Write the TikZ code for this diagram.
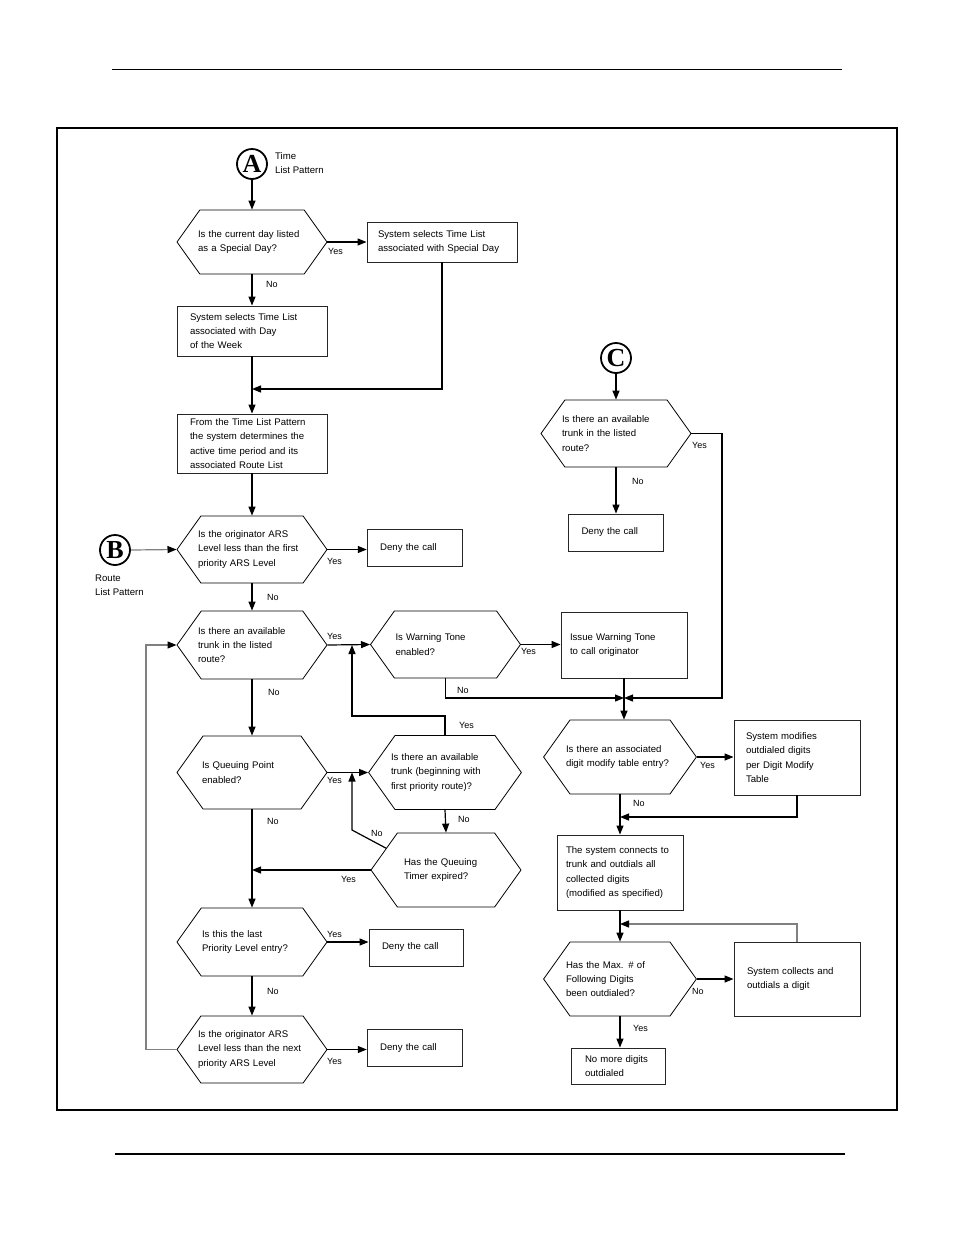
\documentclass[tikz,border=0pt]{standalone}
\usepackage{fontspec}
\setmainfont{Liberation Sans}
\newfontfamily\letterfont{Liberation Serif}
\usetikzlibrary{shapes.symbols,arrows.meta}
\newcommand\txt{\fontsize{9.6}{14.3}\selectfont}
\tikzset{
  base/.style={draw=black, line width=1.2pt},
  arr/.style={base, -{Triangle[length=9pt,width=7pt]}},
  grey/.style={draw=black!50, line width=1.2pt},
  garr/.style={grey, -{Triangle[length=9pt,width=7pt,black]}},
  hexa/.style={signal, signal to=west and east, signal pointer angle=109, draw=black, line width=0.8pt,
    minimum width=150pt, minimum height=#1, text width=108pt, inner xsep=-4pt, inner ysep=0pt, align=left, font=\txt},
  box/.style 2 args={draw=black!85, line width=0.9pt, text width=#1, minimum height=#2, inner xsep=13pt, inner ysep=0pt, align=left, font=\txt},
  conn/.style={circle, draw=black, line width=1.8pt, minimum size=30pt, inner sep=0pt, font=\letterfont\fontsize{26}{26}\selectfont\bfseries},
  lab/.style={font=\fontsize{9}{10}\selectfont, inner sep=0pt, anchor=west},
  note/.style={font=\txt, inner sep=0pt, anchor=west, align=left},
}
\begin{document}
\begin{tikzpicture}[x=1pt,y=-1pt]
  \useasboundingbox (0,0) rectangle (954,1235);
  % page rules and frame
  \draw[base] (112,69.5) -- (842,69.5);
  \draw[base] (115,1154) -- (845,1154);
  \draw[draw=black, line width=2pt] (56.7,127.7) rectangle (896.7,1109.5);

  % entry points
  \node[conn] (A) at (252,164) {A};
  \node[conn] (B) at (115,550) {B};
  \node[conn] (C) at (616,358) {C};
  \node[note] (tA) at (275,163) {Time\\List Pattern};
  \node[note] (tB) at (95,585) {Route\\List Pattern};

  % left column
  \node[hexa=64pt] (D1) at (252,242) {Is the current day listed\\as a Special Day?};
  \node[box={128pt}{40pt}, inner xsep=11pt] (B1) at (442,242) {System selects Time List\\associated with Special Day};
  \node[box={124pt}{50pt}] (B2) at (252,331) {System selects Time List\\associated with Day\\of the Week};
  \node[box={124pt}{59pt}] (B3) at (252,443.5) {From the Time List Pattern\\the system determines the\\active time period and its\\associated Route List};
  \node[hexa=67pt] (D2) at (252,549.5) {Is the originator ARS\\Level less than the first\\priority ARS Level};
  \node[box={69pt}{37pt}] (N1) at (414.7,547.7) {Deny the call};
  \node[hexa=68pt] (D3) at (252,645) {Is there an available\\trunk in the listed\\route?};
  \node[hexa=67pt, text width=100pt] (D4) at (445.5,644.5) {Is Warning Tone\\enabled?};
  \node[box={108pt}{66pt}, inner xsep=9pt] (W) at (624,645) {Issue Warning Tone\\to call originator};
  \node[hexa=73pt, text width=100pt] (D5) at (252,772.5) {Is Queuing Point\\enabled?};
  \node[hexa=74pt] (D6) at (445,772.5) {Is there an available\\trunk (beginning with\\first priority route)?};
  \node[hexa=74pt, text width=84pt] (D10) at (446,870) {Has the Queuing\\Timer expired?};
  \node[hexa=68pt, text width=100pt] (D11) at (252,942) {Is this the last\\Priority Level entry?};
  \node[box={68pt}{37pt}] (N2) at (416,947.5) {Deny the call};
  \node[hexa=67pt] (D12) at (252,1049.5) {Is the originator ARS\\Level less than the next\\priority ARS Level};
  \node[box={69pt}{37pt}] (N3) at (414.7,1047.7) {Deny the call};

  % right column
  \node[hexa=67pt] (D8) at (616,433.5) {Is there an available\\trunk in the listed\\route?};
  \node[box={69pt}{37pt}] (N4) at (616,532.5) {Deny the call};
  \node[hexa=74pt] (D7) at (620,757) {Is there an associated\\digit modify table entry?};
  \node[box={102pt}{75pt}, inner xsep=12pt] (M) at (797,757.5) {System modifies\\outdialed digits\\per Digit Modify\\Table};
  \node[box={108pt}{75pt}, inner xsep=9pt] (T) at (620,872.5) {The system connects to\\trunk and outdials all\\collected digits\\(modified as specified)};
  \node[hexa=74pt] (D9) at (620,979) {Has the Max. \# of\\Following Digits\\been outdialed?};
  \node[box={100pt}{74pt}] (S) at (797,979) {System collects and\\outdials a digit};
  \node[box={66pt}{36pt}, inner xsep=14pt] (E) at (618,1066) {No more digits\\outdialed};

  \coordinate (P) at (252,389);
  \coordinate (J) at (624,698);
  \coordinate (K) at (620,817);
  \coordinate (L) at (620,924);
  \coordinate (rt) at (722,698);
  \coordinate (up1) at (352,716);
  \coordinate (up2) at (352,830);
  \coordinate (lp) at (146,645);

  % connectors
  \draw[arr] (A.south) -- (D1.north);
  \draw[arr] (D1.east) -- (B1.west);
  \draw[arr] (D1.south) -- (B2.north);
  \draw[arr] (B1.south) |- (P);
  \draw[arr] (B2.south) -- (B3.north);
  \draw[arr] (B3.south) -- (D2.north);
  \draw[garr] (B.east) -- (D2.west);
  \draw[arr] (D2.east) -- (D2.east -| N1.west);
  \draw[arr] (D2.south) -- (D3.north);
  \draw[arr] (D3.east) -- (D4.west);
  \draw[arr] (D4.east) -- (D4.east -| W.west);
  \draw[arr] (D4.south) |- (J);
  \draw[base] (W.south) -- (J);
  \draw[arr] (J) -- (J |- D7.north);
  \draw[arr] (C.south) -- (D8.north);
  \draw[arr] (D8.south) -- (N4.north);
  \draw[arr] (D8.east) -| (rt) -- (J);
  \draw[arr] (D3.south) -- (D5.north);
  \draw[arr] (D5.east) -- (D6.west);
  \draw[arr] (D6.north) |- (up1) -- (up1 |- D3.east);
  \draw[arr] (D6.south) -- (D10.north);
  \draw[arr] (D10.160) -- (up2) -- (up2 |- D5.east);
  \draw[arr] (D10.west) -- (D10.west -| D5.south);
  \draw[arr] (D5.south) -- (D11.north);
  \draw[arr] (D11.east) -- (D11.east -| N2.west);
  \draw[arr] (D11.south) -- (D12.north);
  \draw[arr] (D12.east) -- (D12.east -| N3.west);
  \draw[garr] (D12.west) -| (lp) -- (D3.west);
  \draw[arr] (D7.east) -- (D7.east -| M.west);
  \draw[arr] (M.south) |- (K);
  \draw[arr] (D7.south) -- (T.north);
  \draw[arr] (T.south) -- (D9.north);
  \draw[garr] (S.north) |- (L);
  \draw[arr] (D9.east) -- (S.west);
  \draw[arr] (D9.south) -- (D9.south |- E.north);

  % yes / no
  \node[lab] (y1) at (328,251) {Yes};
  \node[lab] (n1) at (266,284) {No};
  \node[lab] (y2) at (327,561) {Yes};
  \node[lab] (n2) at (267,597) {No};
  \node[lab] (y3) at (327,636) {Yes};
  \node[lab] (n3) at (268,692) {No};
  \node[lab] (y4) at (521,651) {Yes};
  \node[lab] (n4) at (457,690) {No};
  \node[lab] (y5) at (327,780) {Yes};
  \node[lab] (n5) at (267,821) {No};
  \node[lab] (y6) at (459,725) {Yes};
  \node[lab] (n6) at (458,819) {No};
  \node[lab] (y10) at (341,879) {Yes};
  \node[lab] (n10) at (371,833) {No};
  \node[lab] (y11) at (327,934) {Yes};
  \node[lab] (n11) at (267,991) {No};
  \node[lab] (y12) at (327,1061) {Yes};
  \node[lab] (y8) at (692,445) {Yes};
  \node[lab] (n8) at (632,481) {No};
  \node[lab] (y7) at (700,765) {Yes};
  \node[lab] (n7) at (633,803) {No};
  \node[lab] (n9) at (692,991) {No};
  \node[lab] (y9) at (633,1028) {Yes};
\end{tikzpicture}
\end{document}
